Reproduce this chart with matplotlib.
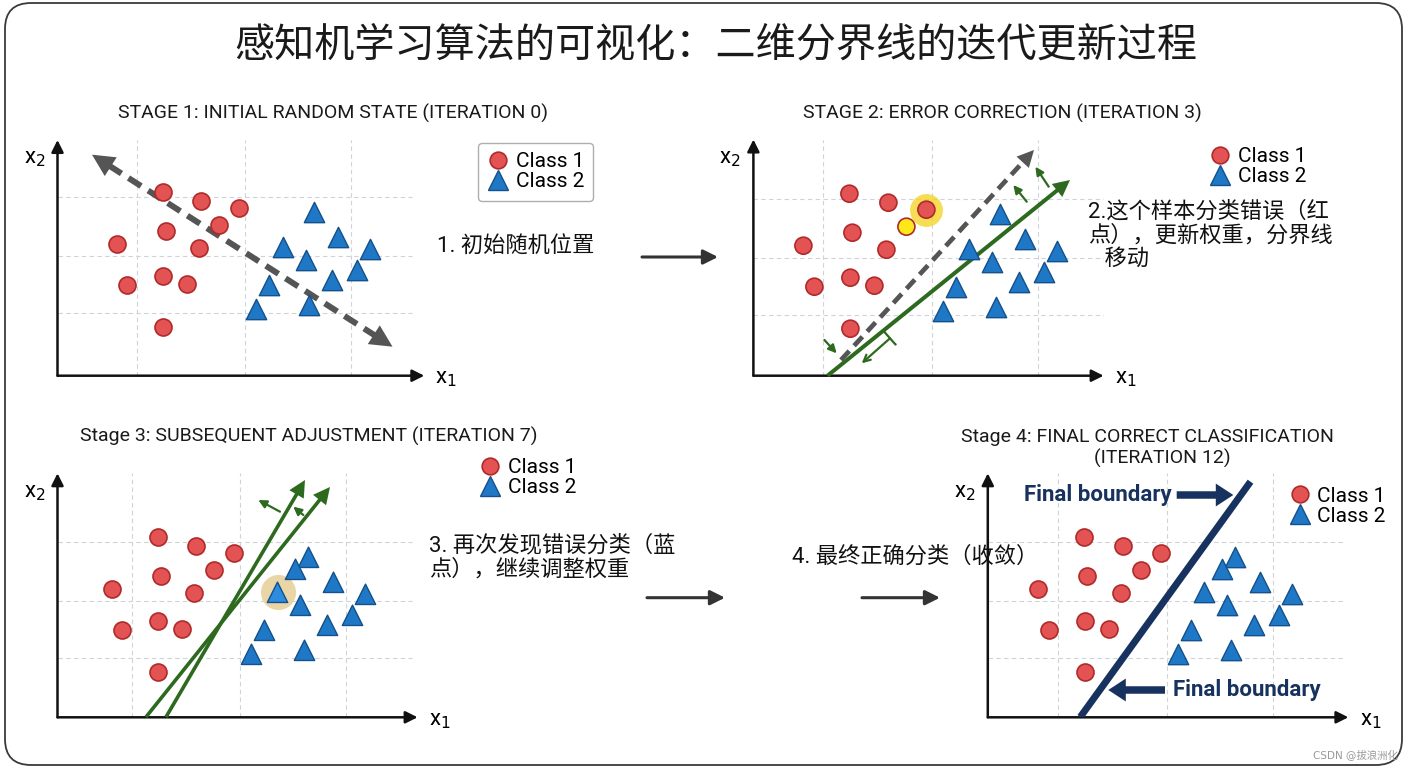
import matplotlib
matplotlib.use("Agg")
import matplotlib.pyplot as plt
from matplotlib import font_manager
from matplotlib.lines import Line2D
from matplotlib.patches import FancyBboxPatch
import numpy as np

W, H = 1408, 768

# ---- data (same sample set in every panel) ----
red_x = [10.5, 14.4, 18.2, 16.2, 10.8, 5.9, 14.2, 7.0, 10.6, 13.0, 10.6]
red_y = [18.4, 17.5, 16.8, 15.1, 14.5, 13.2, 12.8, 9.1, 10.0, 9.2, 4.9]
blue_x = [25.6, 28.1, 22.5, 31.3, 24.8, 30.0, 27.5, 21.2, 19.9, 25.2]
blue_y = [16.4, 13.9, 12.9, 12.7, 11.6, 10.6, 9.6, 9.1, 6.7, 7.1]
# one more triangle shows up in stages 3 and 4
extra_blue_x = [24.3]
extra_blue_y = [15.2]

HIGHLIGHT_RED = 2   # ringed point in stage 2
YELLOW_RED = 3      # "this sample" in stage 2
HIGHLIGHT_BLUE = 2  # misclassified triangle in stage 3

# boundary lines (start, end)
s1_x, s1_y = [3.45, 33.5], [22.1, 2.9]
s2_old_x, s2_old_y = [9.66, 28.96], [1.77, 22.77]
s2_new_x, s2_new_y = [8.31, 32.56], [0.2, 19.77]
s3_a_x, s3_a_y = [9.35, 27.75], [0.43, 23.43]
s3_b_x, s3_b_y = [11.35, 25.25], [0.43, 24.13]
s4_x, s4_y = [10.1, 27.12], [0.43, 23.96]

grid_x = [7.9, 18.8, 29.4]
grid_y = [6.3, 12.0, 17.9]

title = "感知机学习算法的可视化：二维分界线的迭代更新过程"
stage_titles = ["STAGE 1: INITIAL RANDOM STATE (ITERATION 0)",
                "STAGE 2: ERROR CORRECTION (ITERATION 3)",
                "Stage 3: SUBSEQUENT ADJUSTMENT (ITERATION 7)",
                "Stage 4: FINAL CORRECT CLASSIFICATION",
                "(ITERATION 12)"]
notes = ["1. 初始随机位置",
         "2.这个样本分类错误（红\n点），更新权重，分界线\n   移动",
         "3. 再次发现错误分类（蓝\n点），继续调整权重",
         "4. 最终正确分类（收敛）"]

RED, RED_EDGE = "#e35353", "#b02a2a"
BLUE, BLUE_EDGE = "#1f78c6", "#14508a"
GREEN = "#2d6a1f"
NAVY = "#17325f"
GREY = "#555555"

plt.rcParams['font.family'] = ['Roboto', 'Noto Sans CJK SC', 'DejaVu Sans']
names = {f.name for f in font_manager.fontManager.ttflist}
if 'Liberation Sans Narrow' in names:
    NARROW, title_fs, bold_fs, legend_fs = 'Liberation Sans Narrow', 15, 17, 16
else:
    NARROW, title_fs, bold_fs, legend_fs = 'Roboto', 14, 16, 15
CJK = ['Roboto', 'Noto Sans CJK SC']

fig = plt.figure(figsize=(W / 100, H / 100), dpi=100)
bg = fig.add_axes([0, 0, 1, 1])
bg.set_xlim(0, W)
bg.set_ylim(H, 0)
bg.axis('off')

bg.add_patch(FancyBboxPatch((5, 3), 1397, 762, boxstyle='round,pad=0,rounding_size=26',
                            fc='none', ec='#3a3a3a', lw=1.3))
bg.text(716, 45, title, fontsize=28.9, ha='center', va='center', color='#1a1a1a',
        family='Noto Sans CJK SC')


def make_panel(ox, oy, right, top, x0, y0):
    ax = fig.add_axes([ox / W, 1 - oy / H, (right - ox) / W, (oy - top) / H])
    y1 = y0 + (oy - top) / 10
    ax.set_xlim(x0, x0 + (right - ox) / 10)
    ax.set_ylim(y0, y1)
    ax.axis('off')
    ax.vlines(grid_x, y0, y1, colors='#cfd3da', linestyles=(0, (4, 3)), lw=0.8, zorder=1)
    ax.hlines(grid_y, x0, x0 + 35.5, colors='#cfd3da', linestyles=(0, (4, 3)), lw=0.8, zorder=1)
    for tip in [(1, 0), (0, 1)]:
        ax.annotate('', xy=tip, xytext=(0, 0), xycoords='axes fraction',
                    arrowprops=dict(arrowstyle='-|>', color='#111', lw=1.8,
                                    mutation_scale=18, shrinkA=0, shrinkB=0))
    ax.annotate('x$_2$', xy=(0, 0.92), xycoords='axes fraction', xytext=(-9, 0),
                textcoords='offset points', ha='right', va='center', fontsize=16)
    ax.annotate('x$_1$', xy=(1, 0), xycoords='axes fraction', xytext=(8, -2),
                textcoords='offset points', ha='left', va='center', fontsize=16)
    return ax


def arrow_line(ax, xs, ys, color, lw, ls='-', heads=(False, True), ms=30, z=4):
    x0, x1 = xs
    y0, y1 = ys
    L = np.hypot(x1 - x0, y1 - y0)
    ux, uy = (x1 - x0) / L, (y1 - y0) / L
    hl = 0.4 * ms / 72 * 100 / 10
    a0 = (x0 + ux * hl * 0.9, y0 + uy * hl * 0.9) if heads[0] else (x0, y0)
    a1 = (x1 - ux * hl * 0.9, y1 - uy * hl * 0.9) if heads[1] else (x1, y1)
    ax.plot([a0[0], a1[0]], [a0[1], a1[1]], color=color, lw=lw, ls=ls,
            solid_capstyle='butt', dash_capstyle='butt', zorder=z, clip_on=False)
    ends = []
    if heads[1]:
        ends.append(((x1, y1), (x1 - ux * hl, y1 - uy * hl)))
    if heads[0]:
        ends.append(((x0, y0), (x0 + ux * hl, y0 + uy * hl)))
    for tip, base in ends:
        ax.annotate('', xy=tip, xytext=base, zorder=z,
                    arrowprops=dict(arrowstyle='-|>', mutation_scale=ms, color=color,
                                    lw=0, shrinkA=0, shrinkB=0))


def small_arrow(ax, start, end, style='-|>'):
    ax.annotate('', xy=end, xytext=start, zorder=6,
                arrowprops=dict(arrowstyle=style, color=GREEN, lw=1.6,
                                mutation_scale=12, shrinkA=0, shrinkB=0))


def points(ax, extra=False, red_face=None, blue_face=None):
    bx = blue_x + (extra_blue_x if extra else [])
    by = blue_y + (extra_blue_y if extra else [])
    ax.scatter(red_x, red_y, s=150, c=red_face or RED, edgecolors=RED_EDGE,
               linewidths=1.2, zorder=5, clip_on=False)
    ax.scatter(bx, by, marker='^', s=215, c=blue_face or BLUE, edgecolors=BLUE_EDGE,
               linewidths=1.0, zorder=5, clip_on=False)


def legend(ax, left, top, frame=False):
    handles = [Line2D([], [], ls='', marker='o', ms=12, mfc=RED, mec=RED_EDGE, mew=1.2,
                      label='Class 1'),
               Line2D([], [], ls='', marker='^', ms=14, mfc=BLUE, mec=BLUE_EDGE, mew=1.0,
                      label='Class 2')]
    leg = ax.legend(handles=handles, loc='upper left', bbox_to_anchor=(left / W, 1 - top / H),
                    bbox_transform=fig.transFigure, frameon=frame,
                    handlelength=1.0, handletextpad=0.35, labelspacing=0.05,
                    borderpad=0.45 if frame else 0, borderaxespad=0, fancybox=True,
                    prop=dict(family=NARROW, size=legend_fs))
    if frame:
        leg.get_frame().set_edgecolor('#9a9a9a')
        leg.get_frame().set_linewidth(1.0)
    return leg


# ---- stage 1 ----
ax1 = make_panel(57.5, 375.7, 424.3, 140, 0.0, 0.0)
points(ax1)
arrow_line(ax1, s1_x, s1_y, GREY, 4.3, ls=(0, (2.5, 1.4)), heads=(True, True), ms=40)
legend(ax1, 478, 143, frame=True)

# ---- stage 2 ----
ax2 = make_panel(753.4, 375.7, 1103.6, 139.5, 0.9, 0.2)
ax2.scatter([red_x[HIGHLIGHT_RED]], [red_y[HIGHLIGHT_RED]], s=560, c='#f5d21a', alpha=0.75,
            zorder=4, linewidths=0)
face2 = [RED] * len(red_x)
face2[YELLOW_RED] = '#ffe81a'
points(ax2, red_face=face2)
arrow_line(ax2, s2_old_x, s2_old_y, GREY, 3.4, ls=(0, (2.6, 1.5)), ms=30)
arrow_line(ax2, s2_new_x, s2_new_y, GREEN, 2.9, ms=30)
small_arrow(ax2, (28.23, 17.6), (26.89, 19.27))
small_arrow(ax2, (30.43, 19.1), (29.1, 21.1))
small_arrow(ax2, (8.0, 3.77), (9.23, 2.44))
small_arrow(ax2, (14.56, 3.94), (11.73, 1.44), style=']->,widthA=0.5,lengthA=0.01')
legend(ax2, 1209.8, 147)

# ---- stage 3 ----
ax3 = make_panel(57.5, 717.3, 417.6, 473.3, 0.5, 0.4)
bx3 = blue_x + extra_blue_x
ax3.scatter([bx3[HIGHLIGHT_BLUE]], [(blue_y + extra_blue_y)[HIGHLIGHT_BLUE]], s=640,
            c='#e8d19c', alpha=0.9, zorder=4, linewidths=0)
face3 = [BLUE] * len(bx3)
face3[HIGHLIGHT_BLUE] = '#2b8ce0'
points(ax3, extra=True, blue_face=face3)
arrow_line(ax3, s3_a_x, s3_a_y, GREEN, 2.6, ms=30)
arrow_line(ax3, s3_b_x, s3_b_y, GREEN, 2.6, ms=30)
small_arrow(ax3, (22.75, 20.96), (20.58, 22.13))
small_arrow(ax3, (25.08, 20.63), (24.08, 21.46))
legend(ax3, 479.7, 458)

# ---- stage 4 ----
ax4 = make_panel(987.8, 717.3, 1348.4, 473.3, 0.85, 0.4)
points(ax4, extra=True)
ax4.plot(s4_x, s4_y, color=NAVY, lw=5, solid_capstyle='butt', zorder=4)
fat = dict(arrowstyle='simple,head_length=0.42,head_width=0.55,tail_width=0.18',
           mutation_scale=30, color=NAVY, lw=0, shrinkA=0, shrinkB=0)
ax4.text(19.24, 22.63, 'Final boundary', ha='right', va='center', color=NAVY,
         fontsize=bold_fs, fontweight='bold', family=NARROW, zorder=6)
ax4.annotate('', xy=(25.4, 22.63), xytext=(19.74, 22.63), arrowprops=fat, zorder=6)
ax4.text(19.4, 3.13, 'Final boundary', ha='left', va='center', color=NAVY,
         fontsize=bold_fs, fontweight='bold', family=NARROW, zorder=6)
ax4.annotate('', xy=(12.9, 3.13), xytext=(18.57, 3.13), arrowprops=fat, zorder=6)
legend(ax4, 1289.3, 486.5)

# ---- titles, notes, connectors ----
for (cx, cy), t in zip([(332.5, 113), (1002.6, 113), (309, 436.7), (1147, 436.7),
                        (1162.5, 458.3)], stage_titles):
    bg.text(cx, cy, t, ha='center', va='center', fontsize=title_fs, color='#1a1a1a',
            family=NARROW)

bg.text(437, 246, notes[0], ha='left', va='center', fontsize=16, color='#111', family=CJK)
bg.text(1088, 201, notes[1], ha='left', va='top', fontsize=16, color='#111', family=CJK,
        linespacing=1.15)
bg.text(429, 535, notes[2], ha='left', va='top', fontsize=16, color='#111', family=CJK,
        linespacing=1.15)
bg.text(792, 556.7, notes[3], ha='left', va='center', fontsize=16, color='#111', family=CJK)

conn = dict(arrowstyle='-|>', color='#333333', lw=2.2, mutation_scale=22, shrinkA=0, shrinkB=0)
for x0, x1, y in [(642, 718, 257), (647, 725, 597.7), (862, 940, 597.7)]:
    bg.annotate('', xy=(x1, y), xytext=(x0, y), arrowprops=conn)

bg.text(1398, 756, 'CSDN @拔浪洲化', ha='right', va='center', fontsize=7.5, color='#9a9a9a',
        family=['DejaVu Sans', 'Noto Sans CJK SC'])

fig.savefig('out.png', dpi=100)
